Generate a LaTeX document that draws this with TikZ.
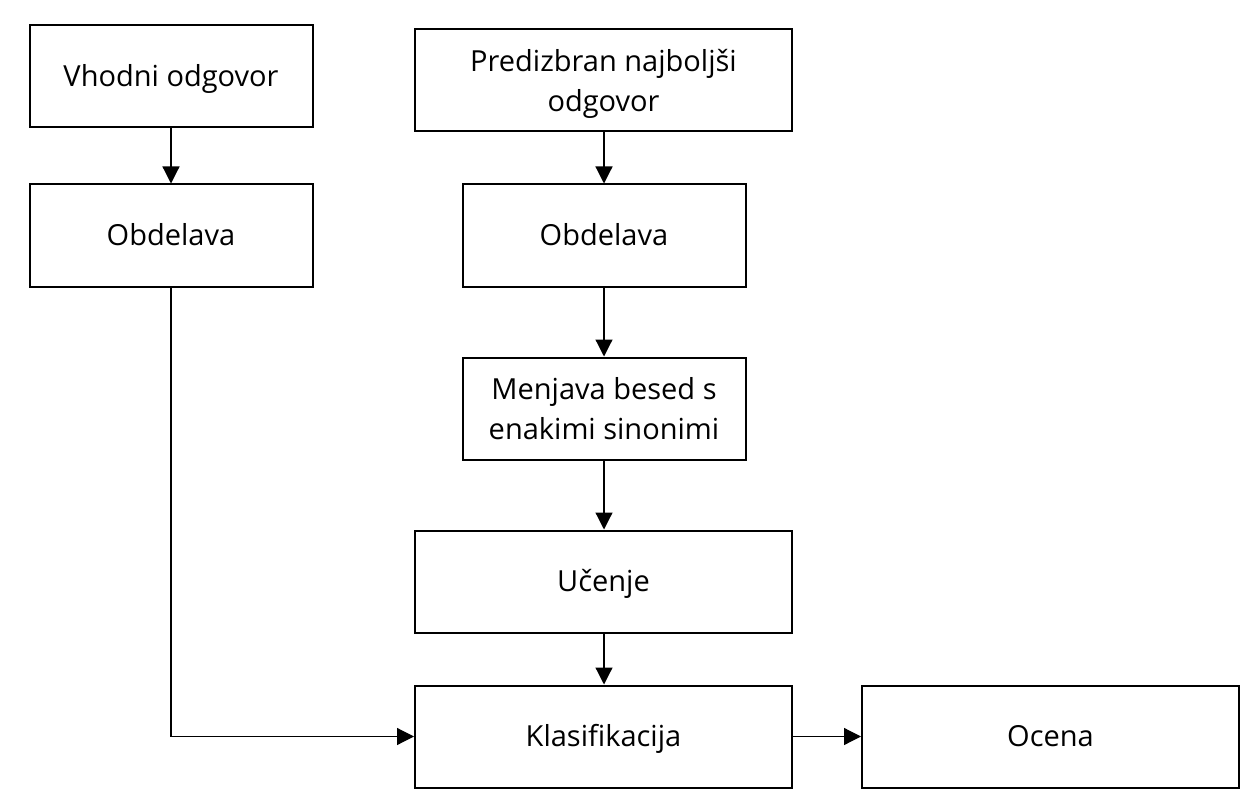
\documentclass[tikz,border=0pt]{standalone}
\usepackage{fontspec}
\setmainfont{Open Sans}
\usetikzlibrary{arrows.meta}
\begin{document}
\begin{tikzpicture}[x=1pt,y=-1pt,
  box/.style={draw, line width=2pt, rectangle, minimum height=102pt, align=center,
    font=\fontsize{29}{40}\selectfont, inner sep=0pt},
  oneline/.style={text height=20.7pt, text depth=0pt},
  twoline/.style={text depth=0pt},
  narrow/.style={box, minimum width=283pt},
  wide/.style={box, minimum width=377pt},
  conn/.style={line width=1.2pt, -{Triangle[length=17pt,width=17pt]}}]
\useasboundingbox (0,0) rectangle (1248,805);
\node[narrow,oneline] (vin) at (171,76.5) {Vhodni odgovor};
\node[narrow,oneline] (ob1) at (171,235.5) {Obdelava};
\node[wide,twoline] (pre) at (603.5,80) {Predizbran najboljši\\odgovor};
\node[narrow,oneline] (ob2) at (604,235.5) {Obdelava};
\node[narrow,twoline] (men) at (604,408.5) {Menjava besed s\\enakimi sinonimi};
\node[wide,oneline] (uc) at (603.5,581.5) {Učenje};
\node[wide,oneline] (kl) at (603.5,736.5) {Klasifikacija};
\node[wide,oneline] (oc) at (1050.5,736.5) {Ocena};
\draw[conn] (vin) -- (ob1);
\draw[conn] (pre.south -| ob2) -- (ob2);
\draw[conn] (ob2) -- (men);
\draw[conn] (men) -- (uc.north -| men);
\draw[conn] (uc.south -| men) -- (kl.north -| men);
\draw[conn] (ob1.south) |- (kl.west);
\draw[conn] (kl) -- (oc);
\end{tikzpicture}
\end{document}
